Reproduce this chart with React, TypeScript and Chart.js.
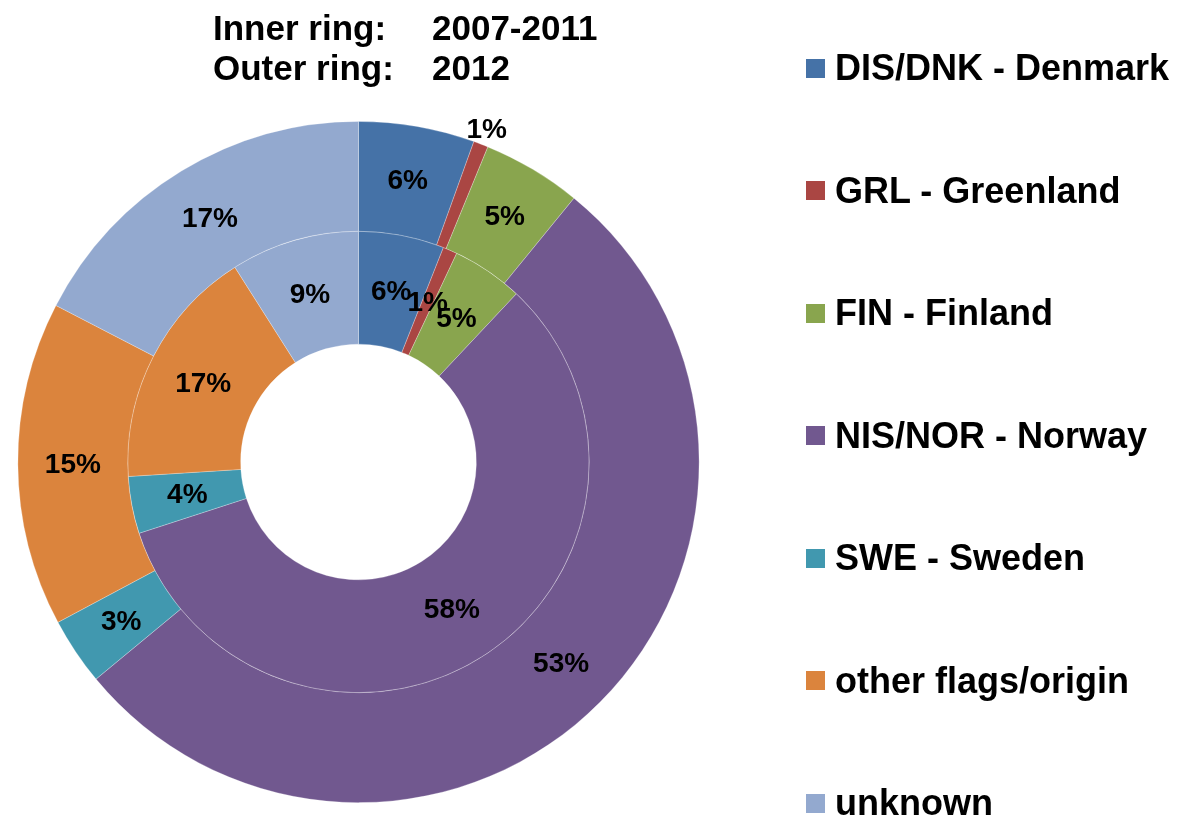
import React, { useEffect, useRef } from "react";
import { Chart, registerables } from "chart.js";

Chart.register(...registerables);

// ---- data ----
const categories = [
  "DIS/DNK - Denmark",
  "GRL - Greenland",
  "FIN - Finland",
  "NIS/NOR - Norway",
  "SWE - Sweden",
  "other flags/origin",
  "unknown",
];
// outer ring: 2012 (shares in %)
const outer2012 = [5.5, 0.7, 4.7, 53.1, 3.2, 15.4, 17.4];
// inner ring: 2007-2011
const inner2007to2011 = [6, 1, 5, 58, 4, 17, 9];
const colors = ["#4572A7", "#AA4643", "#89A54E", "#71588F", "#4198AF", "#DB843D", "#93A9CF"];
const titleLabels = ["Inner ring:", "Outer ring:"];
const titleValues = ["2007-2011", "2012"];

// labels placed just outside the ring: dataset index -> data indices
const OUTSIDE_LABELS: Record<number, number[]> = { 0: [1] };

const FONT = "'Liberation Sans', Arial, Helvetica, sans-serif";

const ringLabels = {
  id: "ringLabels",
  afterDatasetsDraw(chart: any) {
    const ctx = chart.ctx;
    ctx.save();
    ctx.font = `bold 28px ${FONT}`;
    ctx.fillStyle = "#000";
    ctx.textAlign = "center";
    ctx.textBaseline = "middle";
    chart.data.datasets.forEach((ds: any, di: number) => {
      const meta = chart.getDatasetMeta(di);
      meta.data.forEach((arc: any, i: number) => {
        const p = arc.getProps(["x", "y", "startAngle", "endAngle", "innerRadius", "outerRadius"], true);
        const mid = (p.startAngle + p.endAngle) / 2;
        const outside = (OUTSIDE_LABELS[di] || []).includes(i);
        const r = outside ? p.outerRadius + 16 : (p.innerRadius + p.outerRadius) / 2;
        ctx.fillText(`${Math.round(ds.data[i])}%`, p.x + Math.cos(mid) * r, p.y + Math.sin(mid) * r + 1);
      });
    });
    ctx.restore();
  },
};

export default function App() {
  const canvasRef = useRef<HTMLCanvasElement | null>(null);

  useEffect(() => {
    if (!canvasRef.current) return;
    const chart = new Chart(canvasRef.current, {
      type: "doughnut",
      data: {
        labels: categories,
        datasets: [
          {
            label: "2012",
            data: outer2012,
            backgroundColor: colors,
            borderColor: "rgba(255,255,255,0.35)",
            borderWidth: 0.75,
            weight: 110,
          } as any,
          {
            label: "2007-2011",
            data: inner2007to2011,
            backgroundColor: colors,
            borderColor: "rgba(255,255,255,0.35)",
            borderWidth: 0.75,
            weight: 113,
          } as any,
        ],
      },
      options: {
        responsive: true,
        maintainAspectRatio: false,
        animation: false,
        cutout: "34.6%",
        layout: { padding: { left: 17, right: 489, top: 121, bottom: 17 } },
        plugins: {
          legend: { display: false },
          title: { display: false },
          tooltip: { enabled: false },
        },
      },
      plugins: [ringLabels],
    });
    return () => chart.destroy();
  }, []);

  const titleStyle = (left: number, top: number): React.CSSProperties => ({
    position: "absolute",
    left,
    top,
    fontFamily: FONT,
    fontWeight: "bold",
    fontSize: 35,
    lineHeight: "35px",
    whiteSpace: "pre",
    color: "#000",
  });

  return (
    <div style={{ position: "absolute", left: 0, top: 0, width: 1189, height: 820, background: "#fff" }}>
      <div style={{ position: "absolute", left: 0, top: 0, width: 1189, height: 820 }}>
        <canvas ref={canvasRef} />
      </div>
      {titleLabels.map((t, i) => (
        <React.Fragment key={t}>
          <div style={titleStyle(213, 9.5 + i * 40)}>{t}</div>
          <div style={titleStyle(432, 9.5 + i * 40)}>{titleValues[i]}</div>
        </React.Fragment>
      ))}
      {categories.map((c, i) => {
        const cy = 68 + i * 122.5;
        return (
          <React.Fragment key={c}>
            <div
              style={{
                position: "absolute",
                left: 806,
                top: cy - 9.5,
                width: 19,
                height: 19,
                background: colors[i],
              }}
            />
            <div
              style={{
                position: "absolute",
                left: 835,
                top: cy - 17.6,
                fontFamily: FONT,
                fontWeight: "bold",
                fontSize: 36,
                lineHeight: "36px",
                whiteSpace: "pre",
                color: "#000",
              }}
            >
              {c}
            </div>
          </React.Fragment>
        );
      })}
    </div>
  );
}
